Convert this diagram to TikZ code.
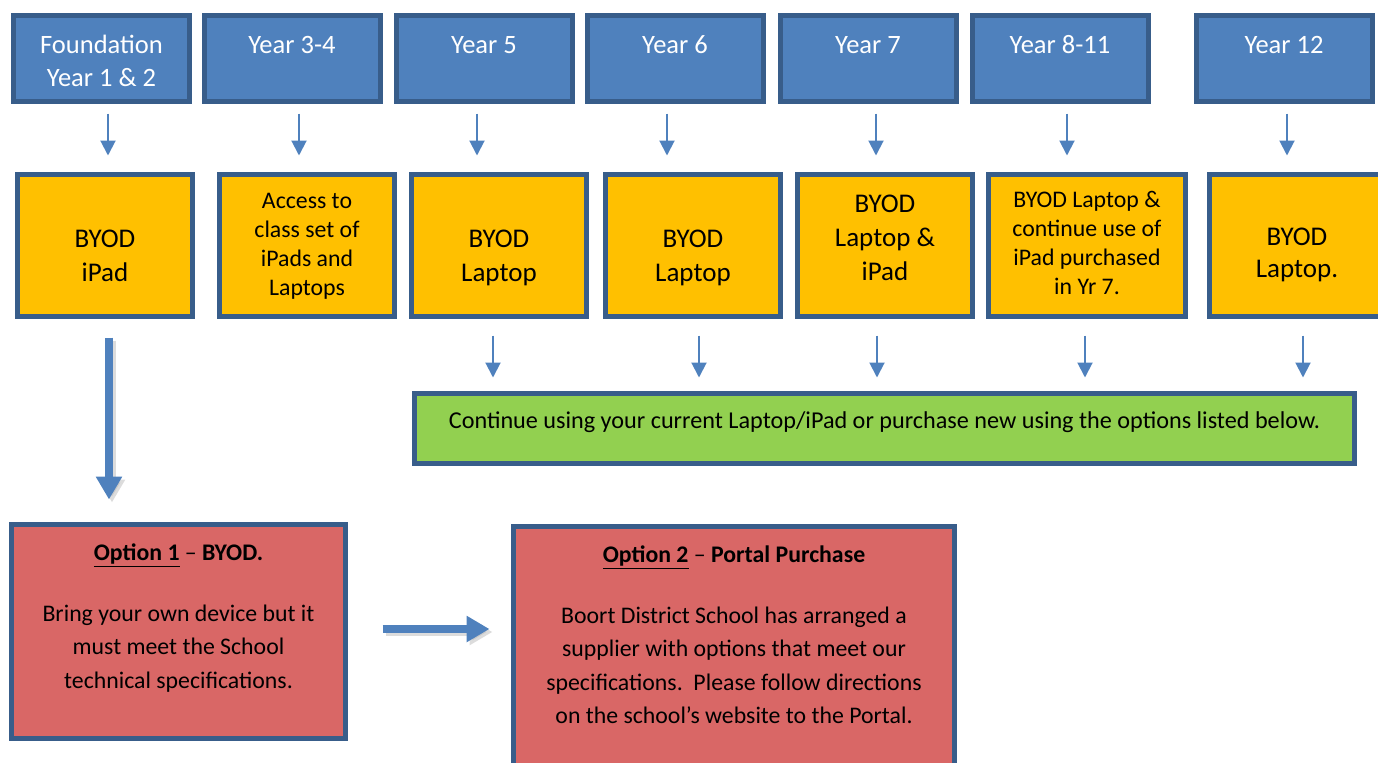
\documentclass[tikz,border=0pt]{standalone}
\usepackage{fontspec}
\setmainfont{Carlito}
\usepackage{tikz}
\usetikzlibrary{arrows.meta}
\definecolor{yearblue}{HTML}{4F81BD}
\definecolor{boxline}{HTML}{385D8A}
\definecolor{devyellow}{HTML}{FFC000}
\definecolor{keepgreen}{HTML}{92D050}
\definecolor{optionred}{HTML}{D96766}
\newcommand{\boxlines}[1]{\begin{tabular}[t]{@{}c@{}}#1\end{tabular}}
\def\edge{2.5pt}
\tikzset{
yearbox/.style={draw=boxline, fill=yearblue, line width=\edge, inner sep=0pt,
	minimum width=88pt, text=white, font=\fontsize{13.25}{16.5}\selectfont,
	text height=18.75pt, text depth=24.25pt},
devbox/.style 2 args={draw=boxline, fill=devyellow, line width=\edge, inner sep=0pt,
	minimum width=87.5pt, font=\fontsize{13.5}{17}\selectfont,
	text height=#1, text depth=#2},
smalltext/.style={font=\fontsize{11.9}{14.65}\selectfont},
keepbox/.style={draw=boxline, fill=keepgreen, line width=\edge, inner sep=0pt,
	minimum width=470pt, font=\fontsize{12.1}{14.65}\selectfont,
	text height=17.25pt, text depth=17.75pt},
optionbox/.style 2 args={draw=boxline, fill=optionred, line width=\edge, inner sep=0pt,
	minimum width=#1, font=\fontsize{11.9}{16.75}\selectfont,
	text height=17.75pt, text depth=#2},
downarrow/.style={draw=yearblue, line width=1pt, -{Triangle[width=7.5pt,length=7.5pt]},
	shorten <=4.75pt, shorten >=8.25pt},
lowarrow/.style={draw=yearblue, line width=1pt, -{Triangle[width=7.5pt,length=7.5pt]},
	shorten <=8.25pt, shorten >=6.75pt},
fatarrow/.style={color=yearblue, line width=4pt, -{Triangle[width=12.5pt,length=11.5pt]}},
fatshadow/.style={fatarrow, color=black!30, opacity=0.45,
	transform canvas={xshift=1.5pt, yshift=-1.5pt}},
}
\begin{document}
\begin{tikzpicture}[x=0.5pt, y=-0.5pt]
	\useasboundingbox (0,0) rectangle (1378,762);
	%
	\node[yearbox] (b1) at (101.5,58.5) {\boxlines{Foundation\\Year 1 \& 2}};
	\node[yearbox] (b2) at (292,58.5) {Year 3-4};
	\node[yearbox] (b3) at (484,58.5) {Year 5};
	\node[yearbox] (b4) at (675,58.5) {Year 6};
	\node[yearbox] (b5) at (868,58.5) {Year 7};
	\node[yearbox] (b6) at (1060,58.5) {Year 8-11};
	\node[yearbox] (b7) at (1284,58.5) {Year 12};
	
	%
	\node[devbox={36.25pt}{34.75pt}] (d1) at (105,245.5) {\boxlines{BYOD\\iPad}};
	\node[devbox={16.75pt}{54.25pt}, smalltext] (d2) at (307,245.5) {\boxlines{Access to\\class set of\\iPads and\\Laptops}};
	\node[devbox={36.25pt}{34.75pt}] (d3) at (499,245.5) {\boxlines{BYOD\\Laptop}};
	\node[devbox={36.25pt}{34.75pt}] (d4) at (693,245.5) {\boxlines{BYOD\\Laptop}};
	\node[devbox={18.75pt}{52.25pt}] (d5) at (885,245.5) {\boxlines{BYOD\\Laptop \&\\iPad}};
	\node[devbox={16.25pt}{54.75pt}, smalltext, minimum width=98.5pt] (d6) at (1087,245.5) {\boxlines{BYOD Laptop \&\\continue use of\\iPad purchased\\in Yr 7.}};
	\node[devbox={35.25pt}{35.75pt}, font=\fontsize{13.5}{16}\selectfont] (d7) at (1297,245.5) {\boxlines{BYOD\\Laptop.}};
	
	%
	\node[keepbox] (keep) at (884.5,428.5) {Continue using your current Laptop/iPad or purchase new using the options listed below.};
	
	%
	\node[optionbox={167pt}{89.25pt}] (r1) at (178.5,631.5) {\boxlines{\underline{\textbf{Option 1}} -- \textbf{BYOD.}\\[13.75pt]
		Bring your own device but it\\must meet the School\\technical specifications.}};
	\node[optionbox={220.5pt}{112.25pt}] (r2) at (734,656.5) {\boxlines{\underline{\textbf{Option 2}} -- \textbf{Portal Purchase}\\[13.75pt]
		Boort District School has arranged a\\supplier with options that meet our\\specifications.\ \ Please follow directions\\on the school's website to the Portal.}};
	
	%
	\draw[downarrow] ([xshift=3.25pt]b1.south) -- ([xshift=3.25pt]b1.south |- d1.north);
	\draw[downarrow] ([xshift=3.5pt]b2.south) -- ([xshift=3.5pt]b2.south |- d2.north);
	\draw[downarrow] ([xshift=-3.5pt]b3.south) -- ([xshift=-3.5pt]b3.south |- d3.north);
	\draw[downarrow] ([xshift=-4pt]b4.south) -- ([xshift=-4pt]b4.south |- d4.north);
	\draw[downarrow] ([xshift=4pt]b5.south) -- ([xshift=4pt]b5.south |- d5.north);
	\draw[downarrow] ([xshift=3.5pt]b6.south) -- ([xshift=3.5pt]b6.south |- d6.north);
	\draw[downarrow] ([xshift=1.5pt]b7.south) -- ([xshift=1.5pt]b7.south |- d7.north);
	
	%
	\draw[lowarrow] ([xshift=-3pt]d3.south) -- ([xshift=-3pt]d3.south |- keep.north);
	\draw[lowarrow] ([xshift=3pt]d4.south) -- ([xshift=3pt]d4.south |- keep.north);
	\draw[lowarrow] ([xshift=-4pt]d5.south) -- ([xshift=-4pt]d5.south |- keep.north);
	\draw[lowarrow] ([xshift=-1pt]d6.south) -- ([xshift=-1pt]d6.south |- keep.north);
	\draw[lowarrow] ([xshift=3pt]d7.south) -- ([xshift=3pt]d7.south |- keep.north);
	
	%
	\draw[fatshadow, shorten <=9.25pt, shorten >=11.25pt] ([xshift=2pt]d1.south) -- ([xshift=2pt]d1.south |- r1.north);
	\draw[fatarrow, shorten <=9.25pt, shorten >=11.25pt] ([xshift=2pt]d1.south) -- ([xshift=2pt]d1.south |- r1.north);
	\draw[fatshadow, shorten <=17.25pt, shorten >=10.75pt] ([yshift=1.25pt]r1.east) -- ([yshift=1.25pt]r1.east -| r2.west);
	\draw[fatarrow, shorten <=17.25pt, shorten >=10.75pt] ([yshift=1.25pt]r1.east) -- ([yshift=1.25pt]r1.east -| r2.west);
\end{tikzpicture}
\end{document}
